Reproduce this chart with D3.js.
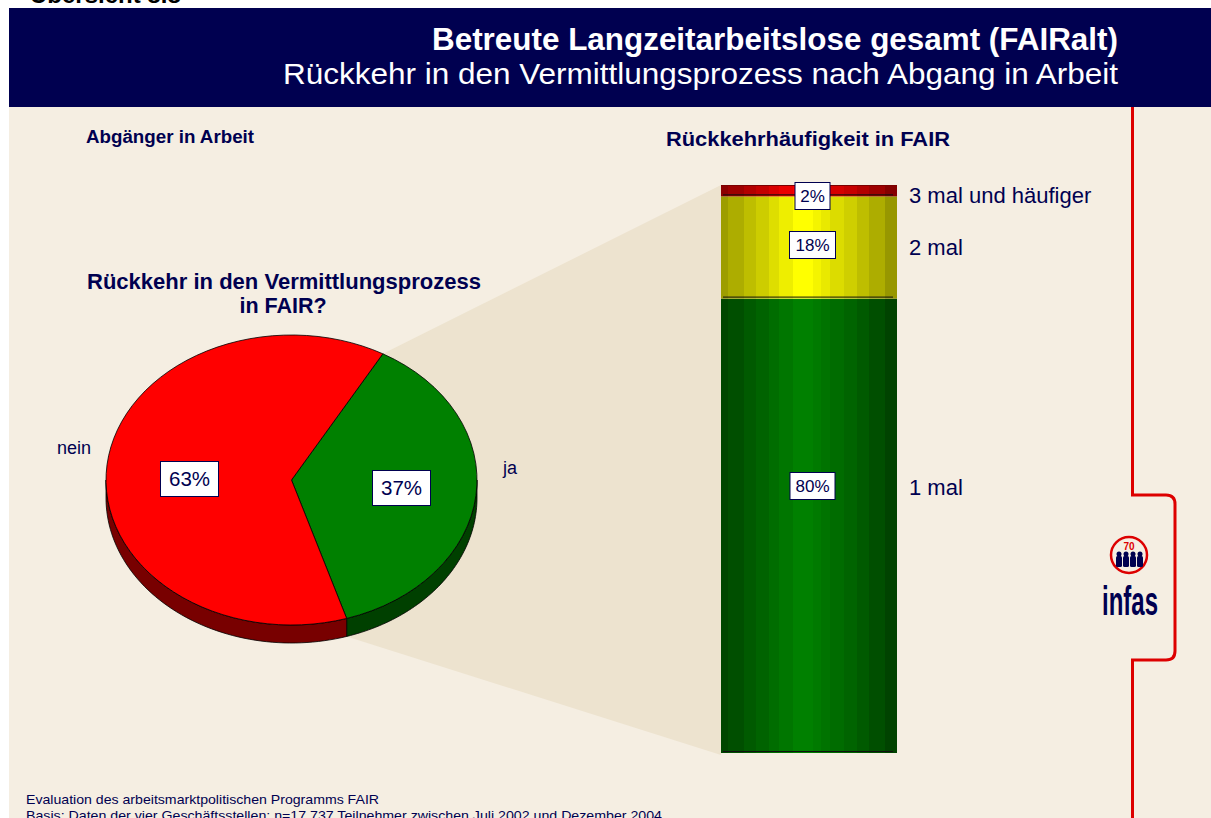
<!DOCTYPE html>
<html>
<head>
<meta charset="utf-8">
<script src="https://cdn.jsdelivr.net/npm/d3@7"></script>
<style>
html,body{margin:0;padding:0;background:#fff;}
svg{display:block;}
text{font-family:"Liberation Sans",Arial,sans-serif;}
</style>
</head>
<body>
<svg id="chart" width="1211" height="818"></svg>
<script>
// ---- data ----
const pieCategories = ["ja", "nein"];
const pieValues = [37, 63];
const barCategories = ["1 mal", "2 mal", "3 mal und häufiger"];
const barValues = [80, 18, 2];
const titleMain = "Betreute Langzeitarbeitslose gesamt (FAIRalt)";
const titleSub = "Rückkehr in den Vermittlungsprozess nach Abgang in Arbeit";
const footerLines = [
  "Evaluation des arbeitsmarktpolitischen Programms FAIR",
  "Basis: Daten der vier Geschäftsstellen; n=17.737 Teilnehmer zwischen Juli 2002 und Dezember  2004"
];

const NAVY = "#000050";
const svg = d3.select("#chart");

// background
svg.append("rect").attr("x",0).attr("y",0).attr("width",1211).attr("height",818).attr("fill","#fff");
svg.append("rect").attr("x",9).attr("y",107).attr("width",1202).attr("height",711).attr("fill","#F5EEE2");
svg.append("rect").attr("x",9).attr("y",8).attr("width",1202).attr("height",99).attr("fill",NAVY);
svg.append("text").attr("x",30).attr("y",3).attr("font-size",24).attr("font-weight","bold").attr("fill","#000").text("Übersicht 8.8");

svg.append("text").attr("x",1118).attr("y",50).attr("text-anchor","end").attr("font-size",30.5).attr("font-weight","bold").attr("fill","#fff")
  .attr("textLength",686).attr("lengthAdjust","spacingAndGlyphs").text(titleMain);
svg.append("text").attr("x",1118).attr("y",84).attr("text-anchor","end").attr("font-size",30).attr("fill","#fff")
  .attr("textLength",835).attr("lengthAdjust","spacingAndGlyphs").text(titleSub);

// ---- pie geometry ----
const cx = 291.5, cy = 480, rx = 185.5, ry = 145, depth = 18;
const startDeg = 29.5;

// bar geometry
const barX = 721, barW = 176, barTop = 185, barBottom = 753;
const yScale = d3.scaleLinear().domain([0, d3.sum(barValues)]).range([barBottom, barTop]);

// funnel band
const pie = d3.pie().sort(null).value(d => d).startAngle(startDeg*Math.PI/180).endAngle(startDeg*Math.PI/180 + 2*Math.PI);
const arcsData = pie(pieValues);
const pt = (a, dy=0) => [cx + rx*Math.sin(a), cy - ry*Math.cos(a) + dy];
const jaArc = arcsData[0];
const p1 = pt(jaArc.startAngle), p2 = pt(jaArc.endAngle, depth);
svg.append("path")
  .attr("d", d3.line()([p1, [barX, barTop], [barX, barBottom+2], p2]))
  .attr("fill", "#EDE3CF");

// pie sides
const sideColors = {"ja":"#004000","nein":"#780000"};
const topColors = {"ja":"#008000","nein":"#FF0000"};
const gPie = svg.append("g");
arcsData.forEach((d, i) => {
  const ranges = [];
  for (let k = -1; k <= 1; k++) {
    const lo = Math.PI/2 + k*2*Math.PI, hi = 3*Math.PI/2 + k*2*Math.PI;
    const a0 = Math.max(d.startAngle, lo), a1 = Math.min(d.endAngle, hi);
    if (a1 > a0) ranges.push([a0, a1]);
  }
  ranges.forEach(([a0, a1]) => {
    const n = 60, pts = [];
    for (let j = 0; j <= n; j++) pts.push(pt(a0 + (a1-a0)*j/n));
    for (let j = n; j >= 0; j--) pts.push(pt(a0 + (a1-a0)*j/n, depth));
    gPie.append("path").attr("d", d3.line()(pts) + "Z")
      .attr("fill", sideColors[pieCategories[i]]).attr("stroke","#000").attr("stroke-width",0.8);
  });
});
const arc = d3.arc().innerRadius(0).outerRadius(rx);
const gTop = svg.append("g").attr("transform", `translate(${cx},${cy}) scale(1,${ry/rx})`);
gTop.selectAll("path").data(arcsData).enter().append("path")
  .attr("d", arc)
  .attr("fill", (d,i) => topColors[pieCategories[i]])
  .attr("stroke", "#000").attr("stroke-width", 0.8)
  .attr("vector-effect", "non-scaling-stroke");

// pie value labels
const pieLabelPos = {"ja":[401.5,488],"nein":[189.5,479]};
pieCategories.forEach((c,i) => {
  const [x,y] = pieLabelPos[c];
  const w = 58, h = 35;
  svg.append("rect").attr("x",x-w/2).attr("y",y-h/2).attr("width",w).attr("height",h).attr("fill","#fff").attr("stroke",NAVY).attr("stroke-width",1);
  svg.append("text").attr("x",x).attr("y",y+7).attr("text-anchor","middle").attr("font-size",20.5).attr("fill",NAVY).text(pieValues[i] + "%");
});
svg.append("text").attr("x",57).attr("y",454).attr("font-size",18).attr("fill",NAVY).text("nein");
svg.append("text").attr("x",503).attr("y",474).attr("font-size",18).attr("fill",NAVY).text("ja");

// headings
svg.append("text").attr("x",86).attr("y",143).attr("font-size",17.5).attr("font-weight","bold").attr("fill",NAVY)
  .attr("textLength",168).attr("lengthAdjust","spacingAndGlyphs").text("Abgänger in Arbeit");
svg.append("text").attr("x",808).attr("y",146).attr("text-anchor","middle").attr("font-size",21).attr("font-weight","bold").attr("fill",NAVY)
  .attr("textLength",284).attr("lengthAdjust","spacingAndGlyphs").text("Rückkehrhäufigkeit in FAIR");
svg.append("text").attr("x",284).attr("y",289).attr("text-anchor","middle").attr("font-size",21.5).attr("font-weight","bold").attr("fill",NAVY)
  .attr("textLength",394).attr("lengthAdjust","spacingAndGlyphs").text("Rückkehr in den Vermittlungsprozess");
svg.append("text").attr("x",283).attr("y",313).attr("text-anchor","middle").attr("font-size",21.5).attr("font-weight","bold").attr("fill",NAVY).text("in FAIR?");

// ---- cylinder-style stacked bar ----
const defs = svg.append("defs");
const barColors = {"1 mal":"#008000","2 mal":"#FFFF00","3 mal und häufiger":"#FF0000"};
const bands = [0.04,0.13,0.20,0.27,0.33,0.41,0.48,0.52,0.57,0.62,0.70,0.77,0.84,0.93,1.0];
const bright = [0.55,0.62,0.70,0.77,0.85,0.92,1.0,1.0,0.95,0.90,0.84,0.78,0.70,0.62,0.52];
barCategories.forEach((c,i) => {
  const base = d3.color(barColors[c]);
  const grad = defs.append("linearGradient").attr("id","g"+i).attr("x1","0").attr("x2","1").attr("y1","0").attr("y2","0");
  let prev = 0;
  bands.forEach((b,k) => {
    const f = c === "2 mal" ? 0.15 + 0.85*bright[k] : bright[k];
    const col = d3.rgb(base.r*f, base.g*f, base.b*f).formatHex();
    grad.append("stop").attr("offset",prev).attr("stop-color",col);
    grad.append("stop").attr("offset",b).attr("stop-color",col);
    prev = b;
  });
});
let cum = 0;
const segs = barValues.map((v,i) => { const s = {c:barCategories[i], v, y0:cum, y1:cum+v, i}; cum += v; return s; });
const gBar = svg.append("g");
segs.forEach(s => {
  gBar.append("rect").attr("x",barX).attr("width",barW)
    .attr("y", yScale(s.y1)).attr("height", yScale(s.y0) - yScale(s.y1))
    .attr("fill", `url(#g${s.i})`);
  gBar.append("line").attr("x1",barX+2).attr("x2",barX+barW-4)
    .attr("y1", yScale(s.y0)-1.5).attr("y2", yScale(s.y0)-1.5)
    .attr("stroke","#111").attr("stroke-width",1);
});
gBar.append("line").attr("x1",barX).attr("x2",barX+barW).attr("y1",barTop+0.5).attr("y2",barTop+0.5).attr("stroke","#7a0000").attr("stroke-width",1);

// bar value labels
const barLabelY = {"1 mal":486,"2 mal":245,"3 mal und häufiger":196};
const barLabelW = {"1 mal":45,"2 mal":46,"3 mal und häufiger":35};
segs.forEach(s => {
  const y = barLabelY[s.c], w = barLabelW[s.c], h = 27;
  const x = 812.5;
  gBar.append("rect").attr("x",x-w/2).attr("y",y-h/2).attr("width",w).attr("height",h).attr("fill","#fff").attr("stroke",NAVY).attr("stroke-width",1);
  gBar.append("text").attr("x",x).attr("y",y+6).attr("text-anchor","middle").attr("font-size",17).attr("fill",NAVY).text(s.v + "%");
});
// category labels
const catY = {"1 mal":495,"2 mal":255,"3 mal und häufiger":203};
barCategories.forEach(c => {
  svg.append("text").attr("x",909).attr("y",catY[c]).attr("font-size",22).attr("fill",NAVY).text(c);
});

// ---- red bracket ----
svg.append("path")
  .attr("d","M1132.5,107 V495 H1166 Q1175,495 1175,504 V651 Q1175,660 1166,660 H1132.5 V818")
  .attr("fill","none").attr("stroke","#DD0000").attr("stroke-width",3);

// ---- logo ----
const lg = svg.append("g");
lg.append("circle").attr("cx",1129).attr("cy",555).attr("r",18).attr("fill","none").attr("stroke","#DD0000").attr("stroke-width",2.5);
lg.append("text").attr("x",1129).attr("y",550).attr("text-anchor","middle").attr("font-size",10).attr("font-weight","bold").attr("fill","#DD0000").text("70");
[1119,1126,1133,1140].forEach(x => {
  lg.append("circle").attr("cx",x).attr("cy",554).attr("r",2.5).attr("fill",NAVY);
  lg.append("rect").attr("x",x-3).attr("y",556).attr("width",6).attr("height",11).attr("rx",1.5).attr("fill",NAVY);
});
lg.append("text").attr("x",1102).attr("y",615).attr("font-size",40).attr("font-weight","bold")
  .attr("textLength",56).attr("lengthAdjust","spacingAndGlyphs").attr("fill",NAVY).text("infas");

// ---- footer ----
svg.append("text").attr("x",26).attr("y",804).attr("font-size",13)
  .attr("textLength",353).attr("lengthAdjust","spacingAndGlyphs").attr("fill",NAVY).text(footerLines[0]);
svg.append("text").attr("x",26).attr("y",820).attr("font-size",13)
  .attr("textLength",636).attr("lengthAdjust","spacingAndGlyphs").attr("fill",NAVY).text(footerLines[1]);
</script>
</body>
</html>
